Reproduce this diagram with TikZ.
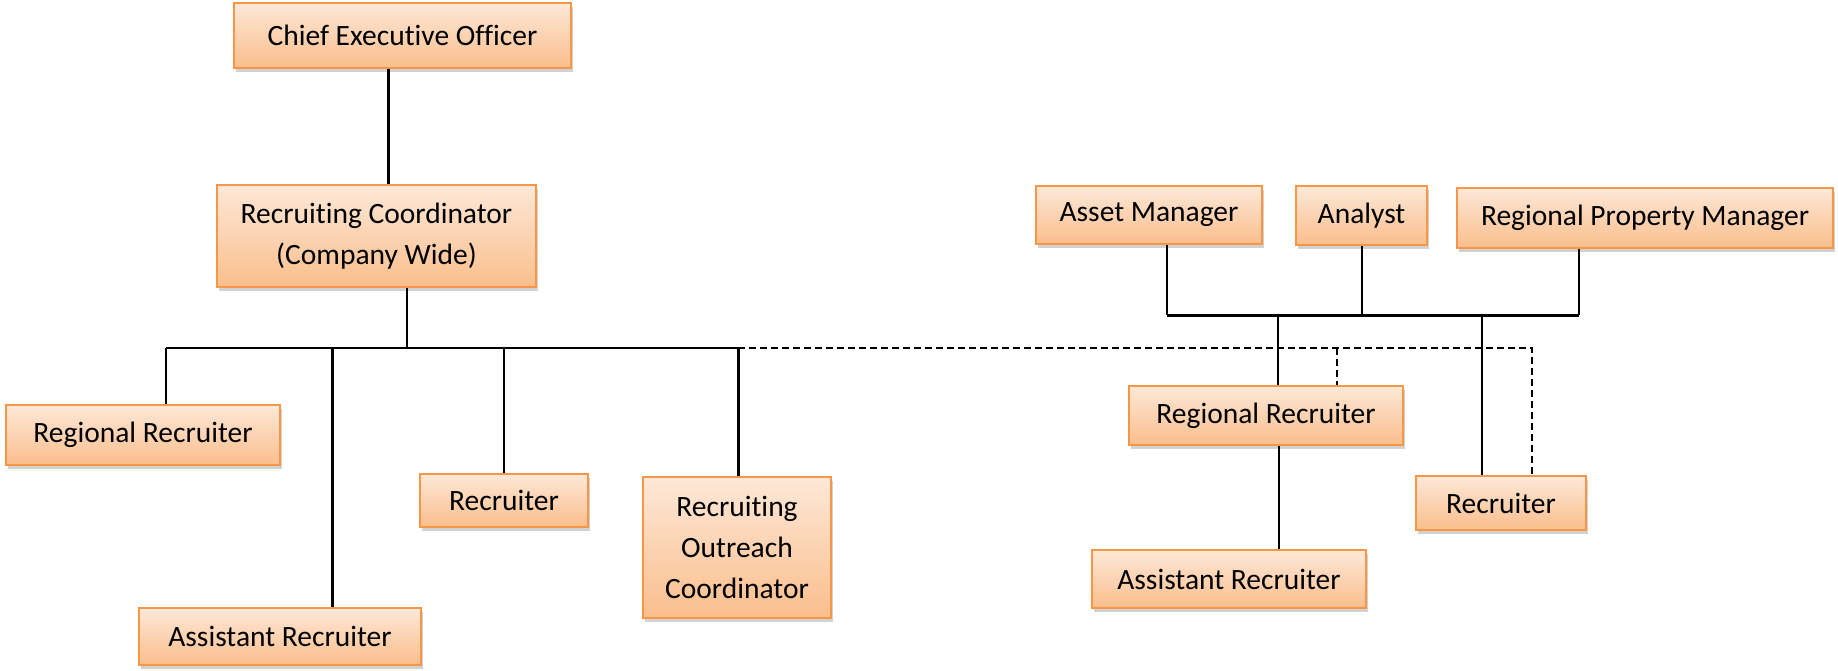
\documentclass[tikz,border=0pt]{standalone}
\usepackage{fontspec}
\setmainfont{Carlito}[Ligatures=NoCommon]
\usetikzlibrary{shadows}
\definecolor{boxtop}{RGB}{253,232,216}
\definecolor{boxbot}{RGB}{250,190,140}
\definecolor{boxline}{RGB}{247,150,70}
\tikzset{
  box/.style={draw=boxline, line width=2pt, top color=boxtop, bottom color=boxbot,
    inner sep=0pt, align=center, font=\fontsize{29.5}{41}\selectfont,
    drop shadow={shadow xshift=2pt, shadow yshift=-4pt, fill=black!35, opacity=0.5}},
  link/.style={line width=2pt},
  heavy/.style={line width=3pt},
  fine/.style={line width=1.5pt},
  dashlink/.style={line width=1.8pt, dash pattern=on 7pt off 4pt}
}
\begin{document}
\begin{tikzpicture}[x=1pt, y=-1pt]
    \useasboundingbox (0,0) rectangle (1838,671);
    %recruiting org chart
    \node[box, minimum width=337pt, minimum height=65pt] at (402.5,35.5) (ceo){Chief Executive Officer};
    \node[box, minimum width=319pt, minimum height=102pt] at (376.5,236) (rc){Recruiting Coordinator\\(Company Wide)};
    \node[box, minimum width=274pt, minimum height=60pt] at (143,435) (rrl){Regional Recruiter};
    \node[box, minimum width=282pt, minimum height=57pt] at (280,636.5) (arl){Assistant Recruiter};
    \node[box, minimum width=168pt, minimum height=53pt] at (504,500.5) (rl){Recruiter};
    \node[box, minimum width=188pt, minimum height=141pt] at (737,547.5) (roc){Recruiting\\Outreach\\Coordinator};
    \node[box, minimum width=226pt, minimum height=58pt] at (1149,215) (am){Asset Manager};
    \node[box, minimum width=131pt, minimum height=59pt] at (1361.5,215.5) (an){Analyst};
    \node[box, minimum width=376pt, minimum height=60pt] at (1645,218) (rpm){Regional Property Manager};
    \node[box, minimum width=274pt, minimum height=59pt] at (1266,415.5) (rrr){Regional Recruiter};
    \node[box, minimum width=274pt, minimum height=58pt] at (1229,579) (arr){Assistant Recruiter};
    \node[box, minimum width=170pt, minimum height=54pt] at (1501,503) (rr){Recruiter};
    \coordinate (busl) at (166,348);
    \coordinate (busm) at (738,348);
    \coordinate (busr) at (1532,348);
    \coordinate (topl) at (1167,315);
    \coordinate (topr) at (1579,315);
    \draw[heavy] ([xshift=-14.5pt]ceo.south) -- ([xshift=11.5pt]rc.north);
    \draw[link] ([xshift=30.5pt]rc.south) -- ([xshift=30.5pt]rc.south |- busl);
    \draw[link] (busl) -- (busm);
    \draw[link] (busl) -- (rrl.north -| busl);
    \draw[heavy] ([xshift=52pt]arl.north |- busl) -- ([xshift=52pt]arl.north);
    \draw[fine] (rl.north |- busl) -- (rl.north);
    \draw[heavy] (busm) -- (roc.north -| busm);
    \draw[dashlink] (busm) -- (busr) -- ([xshift=31pt]rr.north);
    \draw[dashlink] ([xshift=71pt]rrr.north |- busr) -- ([xshift=71pt]rrr.north);
    \draw[link] (am.south -| topl) -- (topl);
    \draw[link] (an.south) -- (an.south |- topl);
    \draw[link] (rpm.south -| topr) -- (topr);
    \draw[heavy] (topl) -- (topr);
    \draw[link] ([xshift=12pt]rrr.north |- topl) -- ([xshift=12pt]rrr.north);
    \draw[link] ([xshift=-19pt]rr.north |- topl) -- ([xshift=-19pt]rr.north);
    \draw[link] ([xshift=13pt]rrr.south) -- ([xshift=50pt]arr.north);
\end{tikzpicture}
\end{document}
